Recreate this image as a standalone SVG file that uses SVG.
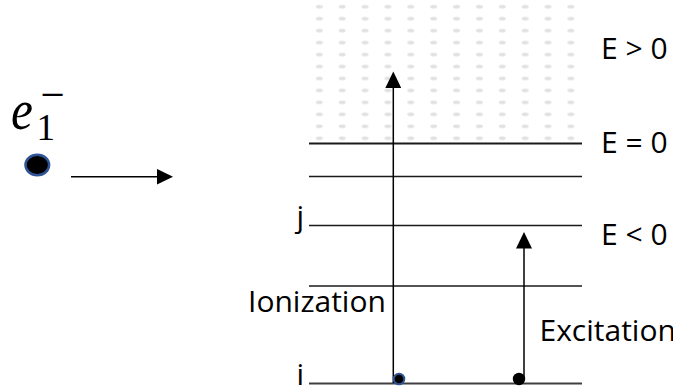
<svg xmlns="http://www.w3.org/2000/svg" width="673" height="391" viewBox="0 0 673 391">
<style>
.lbl{font-family:"Open Sans","Liberation Sans",sans-serif;font-size:30px;fill:#000}
.lvl{stroke:#1a1a1a;stroke-width:1.5;fill:none}
.con{stroke:#000;stroke-width:1.5;fill:none}
.math{font-family:"Liberation Serif","DejaVu Serif",serif;fill:#000}
</style>
<defs>
<pattern id="dots" patternUnits="userSpaceOnUse" x="307.9" y="0.7" width="22.87" height="11.96">
<ellipse cx="11.43" cy="5.98" rx="3.5" ry="1.8" fill="#e0e0e0"/>
</pattern>
<marker id="ah" markerUnits="userSpaceOnUse" markerWidth="17" markerHeight="16" refX="0.5" refY="8" orient="auto">
<path d="M0,0 L16.5,8 L0,16 z" fill="#000"/>
</marker>
</defs>
<g id="continuum">
<rect x="308" y="0" width="274" height="144" fill="url(#dots)"/>
</g>
<g id="levels">
<line class="lvl" x1="309" y1="143.5" x2="582" y2="143.5" style="stroke-width:2"/>
<line class="lvl" x1="309" y1="176.5" x2="582" y2="176.5"/>
<line class="lvl" x1="309" y1="225.5" x2="582" y2="225.5"/>
<line class="lvl" x1="309" y1="286" x2="582" y2="286"/>
<line class="lvl" x1="309" y1="383.5" x2="582" y2="383.5" style="stroke:#404040;stroke-width:2.2"/>
</g>
<g id="energy-labels">
<text class="lbl" x="601" y="58.5">E &gt; 0</text>
<text class="lbl" x="601" y="152.7">E = 0</text>
<text class="lbl" x="601" y="245">E &lt; 0</text>
</g>
<g id="level-j"><text class="lbl" x="304" y="227" text-anchor="end">j</text></g>
<g id="level-i"><text class="lbl" x="304" y="385" text-anchor="end">i</text></g>
<g id="electron">
<text class="math" x="13" y="129.5" font-size="58" font-style="italic" transform="scale(0.85,1)">e</text>
<text class="math" x="36.5" y="140" font-size="37">1</text>
<text class="math" x="40.5" y="109" font-size="43">−</text>
<ellipse cx="37.3" cy="165" rx="11.8" ry="10.2" fill="#000" stroke="#2F5597" stroke-width="2.5"/>
</g>
<g id="connectors">
<line class="con" x1="71" y1="176.7" x2="157" y2="176.7" marker-end="url(#ah)"/>
<line class="con" x1="393.3" y1="383" x2="393.3" y2="87.5" marker-end="url(#ah)"/>
<line class="con" x1="524" y1="379" x2="524" y2="248" marker-end="url(#ah)"/>
</g>
<g id="ionization">
<circle cx="399" cy="379" r="5.3" fill="#000" stroke="#2F5597" stroke-width="2"/>
<text class="lbl" x="248" y="312">Ionization</text>
</g>
<g id="excitation">
<circle cx="519" cy="379" r="6.2" fill="#000"/>
<text class="lbl" x="539.5" y="341">Excitation</text>
</g>
</svg>
